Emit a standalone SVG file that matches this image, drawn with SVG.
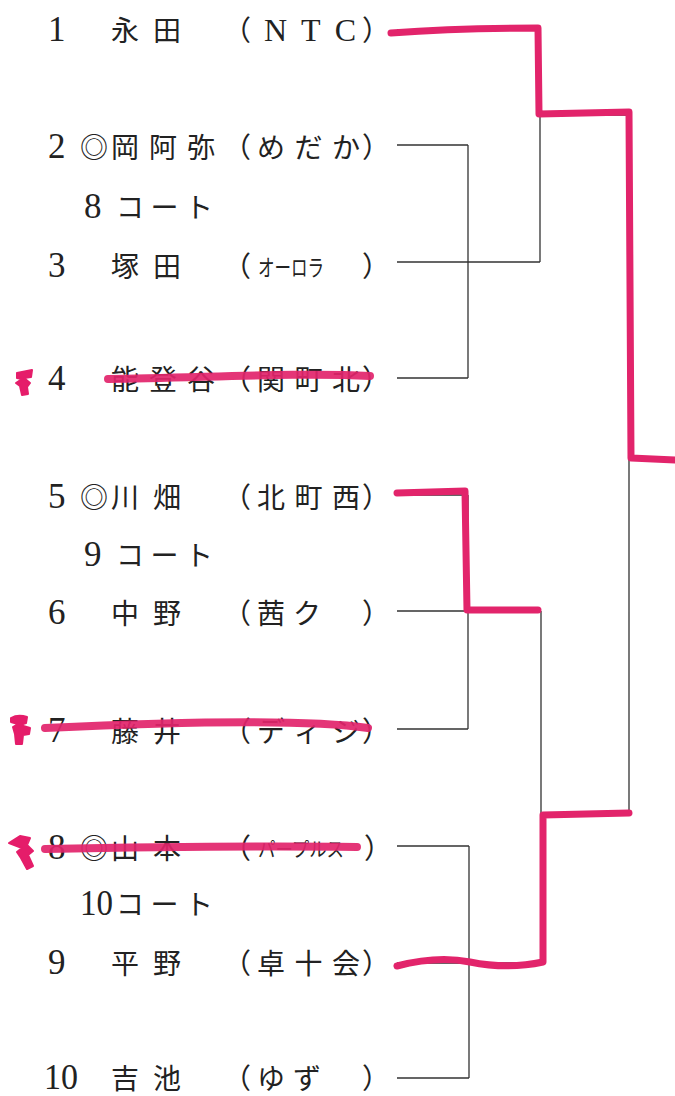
<svg xmlns="http://www.w3.org/2000/svg" width="675" height="1096" viewBox="0 0 675 1096">
<style>
.n{font-family:"Liberation Serif",serif;font-size:35px;fill:#222}
.j{font-family:"Noto Sans CJK JP",sans-serif;font-size:28px;fill:#222;font-weight:400}
.s{font-family:"Noto Sans CJK JP",sans-serif;font-size:23px;fill:#222;font-weight:400}
.l{font-family:"Liberation Serif",serif;font-size:32px;fill:#222}
.ln{fill:none;stroke:#333;stroke-width:1.3}
.pk{fill:none;stroke:#e2246b;stroke-width:7;stroke-linecap:round;stroke-linejoin:round}
.st{fill:none;stroke:#e2246b;stroke-width:8;stroke-linecap:round;opacity:0.92}
.mk{fill:#e51d6a;stroke:#e51d6a;stroke-width:2;stroke-linejoin:round}
</style>
<rect width="675" height="1096" fill="#fff"/>
<g id="p1"><text class="n" x="48" y="41">1</text><text class="j" x="111" y="41" textLength="70" lengthAdjust="spacing">永田</text><text class="j" x="223" y="41">（</text><text class="l" x="264" y="41" textLength="92" lengthAdjust="spacing">NTC</text><text class="j" x="362" y="41">）</text></g>
<g id="p2"><text class="n" x="48" y="158">2</text><text class="j" x="80" y="158">◎</text><text class="j" x="111" y="158" textLength="104" lengthAdjust="spacing">岡阿弥</text><text class="j" x="223" y="158">（</text><text class="j" x="257" y="158" textLength="103" lengthAdjust="spacing">めだか</text><text class="j" x="362" y="158">）</text></g>
<g id="c8"><text class="n" x="84" y="218">8</text><text class="j" x="116" y="218" textLength="97" lengthAdjust="spacing">コート</text></g>
<g id="p3"><text class="n" x="48" y="277">3</text><text class="j" x="111" y="277" textLength="70" lengthAdjust="spacing">塚田</text><text class="j" x="223" y="277">（</text><text class="s" x="258" y="276" textLength="66" lengthAdjust="spacingAndGlyphs">オーロラ</text><text class="j" x="362" y="277">）</text></g>
<g id="p4"><text class="n" x="48" y="390">4</text><text class="j" x="111" y="390" textLength="104" lengthAdjust="spacing">能登谷</text><text class="j" x="223" y="390">（</text><text class="j" x="257" y="390" textLength="103" lengthAdjust="spacing">関町北</text><text class="j" x="362" y="390">）</text></g>
<g id="p5"><text class="n" x="48" y="508">5</text><text class="j" x="80" y="508">◎</text><text class="j" x="111" y="508" textLength="70" lengthAdjust="spacing">川畑</text><text class="j" x="223" y="508">（</text><text class="j" x="257" y="508" textLength="103" lengthAdjust="spacing">北町西</text><text class="j" x="362" y="508">）</text></g>
<g id="c9"><text class="n" x="84" y="566">9</text><text class="j" x="116" y="566" textLength="97" lengthAdjust="spacing">コート</text></g>
<g id="p6"><text class="n" x="48" y="624">6</text><text class="j" x="111" y="624" textLength="70" lengthAdjust="spacing">中野</text><text class="j" x="223" y="624">（</text><text class="j" x="257" y="624" textLength="64" lengthAdjust="spacing">茜ク</text><text class="j" x="362" y="624">）</text></g>
<g id="p7"><text class="n" x="48" y="742">7</text><text class="j" x="111" y="742" textLength="70" lengthAdjust="spacing">藤井</text><text class="j" x="223" y="742">（</text><text class="j" x="257" y="742" textLength="103" lengthAdjust="spacing">ディジ</text><text class="j" x="362" y="742">）</text></g>
<g id="p8"><text class="n" x="48" y="859">8</text><text class="j" x="80" y="859">◎</text><text class="j" x="111" y="859" textLength="70" lengthAdjust="spacing">山本</text><text class="j" x="223" y="859">（</text><text class="s" x="258" y="857" style="font-size:20px" textLength="86" lengthAdjust="spacingAndGlyphs">パープルス</text><text class="j" x="364" y="859">）</text></g>
<g id="c10"><text class="n" x="80" y="915" textLength="33" lengthAdjust="spacingAndGlyphs">10</text><text class="j" x="116" y="915" textLength="97" lengthAdjust="spacing">コート</text></g>
<g id="p9"><text class="n" x="48" y="974">9</text><text class="j" x="111" y="974" textLength="70" lengthAdjust="spacing">平野</text><text class="j" x="223" y="974">（</text><text class="j" x="257" y="974" textLength="103" lengthAdjust="spacing">卓十会</text><text class="j" x="362" y="974">）</text></g>
<g id="p10"><text class="n" x="44" y="1089" textLength="34" lengthAdjust="spacingAndGlyphs">10</text><text class="j" x="111" y="1089" textLength="70" lengthAdjust="spacing">吉池</text><text class="j" x="223" y="1089">（</text><text class="j" x="257" y="1089" textLength="64" lengthAdjust="spacing">ゆず</text><text class="j" x="362" y="1089">）</text></g>
<g id="connectors">
<path class="ln" d="M397,30H540M397,145H468M397,262H540M397,378H468M468,145V378M540,30V262M540,115H629M397,495H468M397,611H540M397,729H468M468,495V729M397,846H469M397,963H541M397,1078H469M469,846V1078M541,611V963M541,815H629M629,115V815M629,458H675"/>
</g>
<g id="marker-pen">
<path class="pk" d="M391,33C430,30 490,28 538,28L539,114L629,112L631,458L675,460"/>
<path class="pk" d="M397,493L465,491L467,610L538,610"/>
<path class="pk" d="M397,966C420,960 445,957 470,962S520,967 543,962L543,815L629,813"/>
<path class="st" d="M108,379C200,378 300,372 370,376"/>
<path class="st" d="M45,728C150,723 300,718 368,728"/>
<path class="st" d="M45,849C150,847 280,846 357,847"/>
<path class="mk" d="M17,373L32,370L31,377L24,378L30,383L27,387L28,394L22,395L20,386L16,383L22,379L17,378Z"/>
<path class="mk" d="M11,718Q18,714 27,717L26,723L20,725L30,728L29,734L23,735L22,744L16,744L15,734L13,727L18,724L11,722Z"/>
<path class="mk" d="M9,843L20,836L30,838L27,845L33,851L28,855L33,866L27,869L21,858L17,852L22,848Z"/>
</g>
</svg>
